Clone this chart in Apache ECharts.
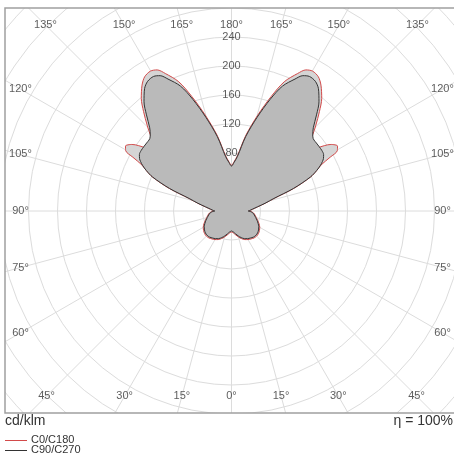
<!DOCTYPE html>
<html><head><meta charset="utf-8">
<script src="https://cdn.jsdelivr.net/npm/echarts@6/dist/echarts.min.js"></script>
<style>html,body{margin:0;padding:0;background:#fff}#c{width:454px;height:454px}</style>
</head><body><div id="c"></div>
<script>
// photometric angle gamma (deg), 0 = straight down, 180 = straight up
const gamma = [0,5,10,15,20,25,30,35,40,45,50,55,60,65,70,75,80,85,88,90,92,95,99,103,106.5,110,113.3,115.4,117.2,118.6,119.7,121.5,123.8,126.3,128,129.8,131.5,133.1,135.5,138.5,141.3,144.6,147.1,149.9,152.2,154.3,157.8,160.9,164.7,169.2,173.7,177,180];
// C0/C180 plane, cd/klm
const c0c180 = [29,30.5,33.5,37,40.5,43.5,45.5,47,48.5,49,48.5,47,45,42,38.5,35.5,33,30.5,27,23,26,29.5,36.5,48,61.5,92,119,130,139,155,168,171.5,165,147.5,135,128,139,153,166,183,199,213,220.5,223,220,210.5,192.5,167,137,106.5,77.5,68,63];
// C90/C270 plane, cd/klm
const c90c270 = [27.5,29,32,35.5,39,42,44,45.5,47,47.5,47,45.5,43.5,40.5,37.5,34.5,32,29.5,26.5,23,25.5,29,36,47.5,61,91,118.5,130,138,143,146,149,150,150,150,150,150.5,153.5,161,177,193,207,213,214.5,211,202,186,163,134,104.5,76,67,62];
const radialTicks = [80,120,160,200,240];
const angleTicks = [0,15,30,45,60,75,90,105,120,135,150,165,180];
const legendNames = ['C0/C180','C90/C270'];
const unitLabel = 'cd/klm';
const effLabel = 'η = 100%';

const FONT = 'Liberation Sans';
const CX = 231.5, CY = 211;
const PXU = 29/40;          // px per cd/klm
const RMAX = 440;
// label inset rectangle half-sizes (px from centre)
const HXL = 211, HXR = 211, HTOP = 186, HBOT = 185;

function loop(vals){
  const pts = [];
  for (let i=0;i<gamma.length;i++) pts.push([vals[i], gamma[i]]);
  for (let i=gamma.length-2;i>=0;i--) pts.push([vals[i], 360-gamma[i]]);
  return pts;
}
function labelPoint(psi, right){
  const rad = psi*Math.PI/180;
  const s = Math.abs(Math.sin(rad)), c = Math.cos(rad);
  let r = Infinity;
  if (s > 1e-6) r = Math.min(r, (right?HXR:HXL)/s);
  if (Math.abs(c) > 1e-6) r = Math.min(r, (c>0?HBOT:HTOP)/Math.abs(c));
  return {value:[r/PXU, right?psi:360-psi], name: psi+'°'};
}
const angleLabelData = [];
angleTicks.forEach(p=>{
  angleLabelData.push(labelPoint(p,true));
  if (p>0 && p<180) angleLabelData.push(labelPoint(p,false));
});

const chart = echarts.init(document.getElementById('c'), null, {renderer:'canvas'});
chart.setOption({
  animation:false,
  backgroundColor:'#fff',
  polar:{center:[CX,CY], radius: RMAX*PXU},
  angleAxis:{type:'value', min:0, max:360, interval:15, startAngle:270, clockwise:false,
    axisLine:{show:false}, axisTick:{show:false}, axisLabel:{show:false},
    splitLine:{show:true, lineStyle:{color:'#dcdcdc', width:1}}},
  radiusAxis:{type:'value', min:0, max:RMAX, interval:40,
    axisLine:{show:false}, axisTick:{show:false}, axisLabel:{show:false},
    splitLine:{show:true, lineStyle:{color:'#dcdcdc', width:1}}},
  series:[
    {type:'line', coordinateSystem:'polar', name:legendNames[0], data:loop(c0c180), symbol:'none', smooth:0.3,
      lineStyle:{color:'#d24a4a', width:1}, areaStyle:{color:'#d5d5d5', opacity:1}, z:3},
    {type:'line', coordinateSystem:'polar', name:legendNames[1], data:loop(c90c270), symbol:'none', smooth:0.3,
      lineStyle:{color:'#333333', width:1}, areaStyle:{color:'#bababa', opacity:1}, z:4},
    {type:'scatter', coordinateSystem:'polar', symbolSize:0, silent:true, z:6,
      data: radialTicks.map(v=>({value:[v,180], name:String(v)})),
      label:{show:true, position:'inside', formatter:'{b}', color:'#333', fontSize:11, fontFamily:FONT}},
    {type:'scatter', coordinateSystem:'polar', symbolSize:0, silent:true, z:6,
      data: angleLabelData,
      label:{show:true, position:'inside', formatter:'{b}', color:'#333', fontSize:11, fontFamily:FONT}}
  ],
  graphic:[
    {type:'rect', z:100, shape:{x:0,y:0,width:454,height:8}, style:{fill:'#fff'}},
    {type:'rect', z:100, shape:{x:0,y:0,width:5,height:454}, style:{fill:'#fff'}},
    {type:'rect', z:100, shape:{x:0,y:413,width:454,height:41}, style:{fill:'#fff'}},
    {type:'rect', z:101, shape:{x:5,y:8,width:450,height:405}, style:{fill:null, stroke:'#a0a0a0', lineWidth:1.5}},
    {type:'text', z:102, left:5, top:414, style:{text:unitLabel, font:'14px '+FONT, fill:'#333'}},
    {type:'text', z:102, right:1, top:414, style:{text:effLabel, font:'14px '+FONT, fill:'#333'}},
    {type:'line', z:102, shape:{x1:5,y1:440.5,x2:27,y2:440.5}, style:{stroke:'#d24a4a', lineWidth:1}},
    {type:'text', z:102, left:31, top:434, style:{text:legendNames[0], font:'11px '+FONT, fill:'#333'}},
    {type:'line', z:102, shape:{x1:5,y1:450.5,x2:27,y2:450.5}, style:{stroke:'#333', lineWidth:1}},
    {type:'text', z:102, left:31, top:444, style:{text:legendNames[1], font:'11px '+FONT, fill:'#333'}}
  ]
});
</script></body></html>
